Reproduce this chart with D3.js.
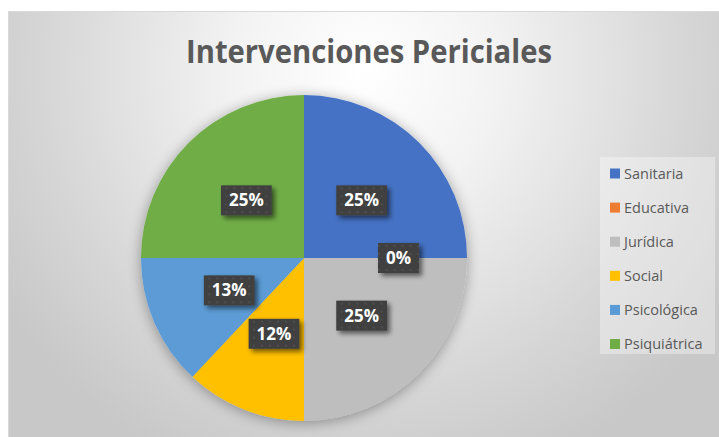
<!DOCTYPE html>
<html>
<head>
<meta charset="utf-8">
<script src="https://cdn.jsdelivr.net/npm/d3@7"></script>
<style>
html,body{margin:0;padding:0;background:#ffffff;overflow:hidden;}
svg{display:block;}
</style>
</head>
<body>
<svg id="chart" width="719" height="437"></svg>
<script>
// ---- data ----
const categories = ["Sanitaria","Educativa","Jurídica","Social","Psicológica","Psiquiátrica"];
const values = [25, 0, 25, 12, 13, 25];
const valueLabels = ["25%","0%","25%","12%","13%","25%"];
const colors = ["#4472C4","#ED7D31","#BEBEBE","#FFC000","#5B9BD5","#70AD47"];
const title = "Intervenciones Periciales";

const W = 719, H = 437;
const svg = d3.select("#chart");
const defs = svg.append("defs");

// background gradient
const bg = defs.append("radialGradient").attr("id","bgGrad")
  .attr("gradientUnits","userSpaceOnUse")
  .attr("cx",365).attr("cy",70).attr("r",430);
bg.append("stop").attr("offset","0").attr("stop-color","#ffffff");
bg.append("stop").attr("offset","0.3").attr("stop-color","#f3f3f3");
bg.append("stop").attr("offset","0.75").attr("stop-color","#d6d6d6");
bg.append("stop").attr("offset","1").attr("stop-color","#c8c8c8");

// pie shadow
const ps = defs.append("filter").attr("id","pieShadow")
  .attr("x","-20%").attr("y","-20%").attr("width","140%").attr("height","140%");
ps.append("feGaussianBlur").attr("in","SourceAlpha").attr("stdDeviation",7).attr("result","b");
ps.append("feOffset").attr("in","b").attr("dx",0).attr("dy",2).attr("result","o");
ps.append("feComponentTransfer").attr("in","o").attr("result","s")
  .append("feFuncA").attr("type","linear").attr("slope",0.35);
const pm = ps.append("feMerge");
pm.append("feMergeNode").attr("in","s");
pm.append("feMergeNode").attr("in","SourceGraphic");

// label shadow
const ls = defs.append("filter").attr("id","lblShadow")
  .attr("x","-30%").attr("y","-30%").attr("width","170%").attr("height","180%");
ls.append("feGaussianBlur").attr("in","SourceAlpha").attr("stdDeviation",2.5).attr("result","b");
ls.append("feOffset").attr("in","b").attr("dx",3).attr("dy",3).attr("result","o");
ls.append("feComponentTransfer").attr("in","o").attr("result","s")
  .append("feFuncA").attr("type","linear").attr("slope",0.55);
const lm = ls.append("feMerge");
lm.append("feMergeNode").attr("in","s");
lm.append("feMergeNode").attr("in","SourceGraphic");

// dotted pattern for label boxes
const pat = defs.append("pattern").attr("id","dots")
  .attr("patternUnits","userSpaceOnUse").attr("width",8).attr("height",8);
pat.append("rect").attr("width",8).attr("height",8).attr("fill","#3f3f3f");
pat.append("circle").attr("cx",4).attr("cy",4).attr("r",1.3).attr("fill","#4d4d4d");

// chart area
svg.append("rect").attr("x",8.5).attr("y",11.5).attr("width",W+20).attr("height",H+20)
  .attr("fill","url(#bgGrad)").attr("stroke","#d9d9d9").attr("stroke-width",1);

// title
svg.append("text").attr("x",369).attr("y",63)
  .attr("text-anchor","middle")
  .attr("font-family","'Open Sans', sans-serif").attr("font-weight",700)
  .attr("font-size",33).attr("fill","#595959")
  .attr("textLength",366).attr("lengthAdjust","spacingAndGlyphs")
  .text(title);

// pie
const cx = 304, cy = 258, R = 163;
const pie = d3.pie().sort(null).value(d => d.v).startAngle(0).endAngle(2*Math.PI);
const data = categories.map((c,i) => ({c, v: values[i], lbl: valueLabels[i], col: colors[i]}));
const arcs = pie(data);
const arc = d3.arc().innerRadius(0).outerRadius(R);
const labelArc = d3.arc().innerRadius(R*0.5).outerRadius(R*0.5);
const zeroArc = d3.arc().innerRadius(R*0.58).outerRadius(R*0.58);

const g = svg.append("g").attr("transform",`translate(${cx},${cy})`);
g.append("g").attr("filter","url(#pieShadow)")
  .selectAll("path").data(arcs).join("path")
  .attr("d", arc).attr("fill", d => d.data.col);

// data labels
const lg = g.append("g");
arcs.forEach(d => {
  const [x,y] = (d.data.v === 0 ? zeroArc : labelArc).centroid(d);
  const grp = lg.append("g").attr("transform",`translate(${x},${y})`);
  const box = grp.append("rect").attr("fill","url(#dots)").attr("filter","url(#lblShadow)");
  const t = grp.append("text").attr("text-anchor","middle").attr("dy","0.36em")
    .attr("font-family","'Open Sans', sans-serif").attr("font-weight",700)
    .attr("font-size",17).attr("fill","#ffffff").text(d.data.lbl);
  const w = t.node().getComputedTextLength() + 16;
  const h = 30;
  box.attr("x",-w/2).attr("y",-h/2).attr("width",w).attr("height",h);
});

// legend
const legX = 600, legY = 157, legW = 115, legH = 197;
svg.append("rect").attr("x",legX).attr("y",legY).attr("width",legW).attr("height",legH)
  .attr("fill","rgba(255,255,255,0.35)");
const ly = d3.scalePoint().domain(categories).range([legY+16.5, legY+187]);
const li = svg.append("g").selectAll("g").data(data).join("g")
  .attr("transform", d => `translate(${legX+10},${ly(d.c)})`);
li.append("rect").attr("x",0).attr("y",-5).attr("width",10).attr("height",10).attr("fill", d => d.col);
li.append("text").attr("x",14).attr("y",0).attr("dy","0.36em")
  .attr("font-family","'Open Sans', sans-serif").attr("font-size",14.5).attr("fill","#595959")
  .text(d => d.c);
</script>
</body>
</html>
